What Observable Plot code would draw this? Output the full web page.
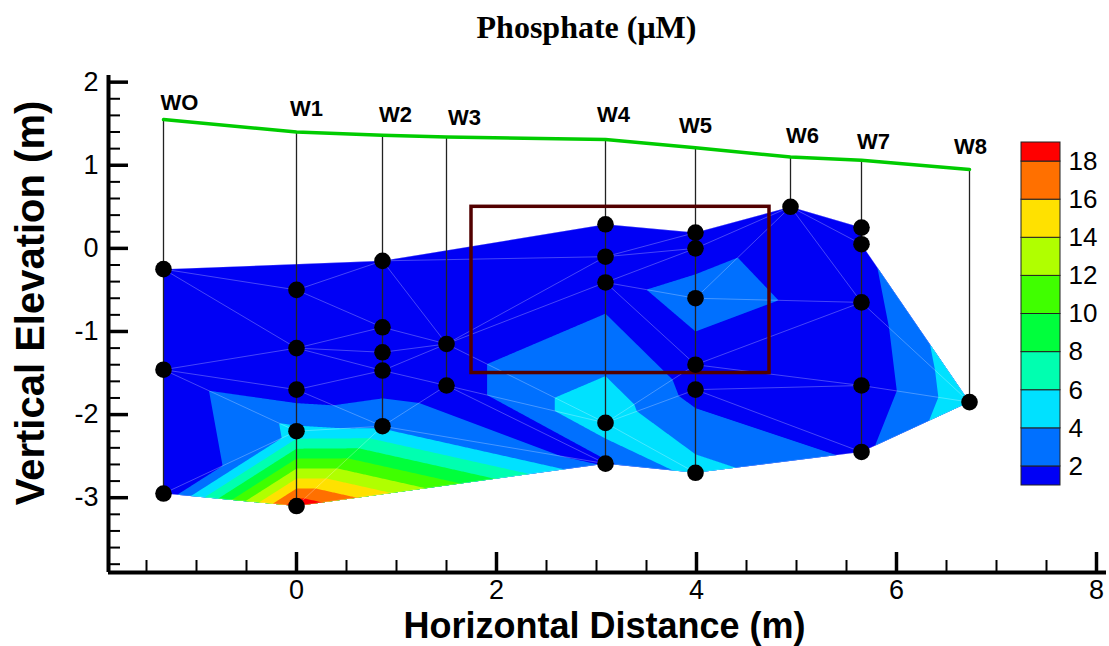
<!DOCTYPE html>
<html><head><meta charset="utf-8">
<script src="https://cdn.jsdelivr.net/npm/d3@7"></script>
<script src="https://cdn.jsdelivr.net/npm/@observablehq/plot@0.6"></script>
<style>
body{margin:0;background:#fff;}
#wrap{position:relative;width:1109px;height:646px;overflow:hidden;}
#main{position:absolute;left:0;top:0;}
#legend{position:absolute;left:1010px;top:130px;}
</style></head><body><div id="wrap"><div id="main"></div><div id="legend"></div></div>
<script>
// ---- data ----
const wells    = ["WO","W1","W2","W3","W4","W5","W6","W7","W8"];
const wellX    = [-1.33, 0.0, 0.86, 1.5, 3.09, 3.99, 4.94, 5.65, 6.73];
const surfaceY = [1.55, 1.40, 1.36, 1.34, 1.31, 1.21, 1.10, 1.06, 0.95];
const labelX   = [-1.17, 0.10, 0.99, 1.68, 3.17, 3.99, 5.06, 5.77, 6.74];
const labelY   = [1.67, 1.59, 1.52, 1.48, 1.52, 1.39, 1.27, 1.20, 1.13];

const sampleWell  = [0,0,0, 1,1,1,1,1, 2,2,2,2,2, 3,3, 4,4,4,4,4, 5,5,5,5,5,5, 6, 7,7,7,7,7, 8];
const sampleDepth = [-0.25,-1.46,-2.95, -0.5,-1.2,-1.7,-2.2,-3.1, -0.15,-0.95,-1.25,-1.47,-2.14,
                     -1.15,-1.65, 0.29,-0.1,-0.41,-2.1,-2.59, 0.19,0.0,-0.6,-1.4,-1.7,-2.7, 0.5,
                     0.25,0.05,-0.65,-1.65,-2.45, -1.85];
const phosphate   = [0.6,0.7,0.0, 0.5,0.6,0.8,4.5,19.5, 0.5,0.6,0.6,0.4,3.6,
                     0.8,0.8, 0.5,0.6,1.0,5.5,1.6, 0.5,0.7,3.2,0.8,1.2,4.8, 0.5,
                     0.6,1.4,0.8,0.3,1.5, 5.5];
// outline of the sampled section (sample indices, in order)
const boundary = [0, 8, 15, 20, 26, 27, 28, 32, 31, 25, 19, 7, 2, 1];

const levels      = [2,4,6,8,10,12,14,16,18];
const levelColors = ["#0000F5","#0070FF","#00E1FF","#00FFB0","#00FF3C","#40FF00","#B0FF00","#FFE100","#FF7000","#FF0000"];

const studyBox = [{x1: 1.75, x2: 4.73, y1: -1.5, y2: 0.5}];

const xMajor = [0,2,4,6,8];
const xMinor = [-1.5,-1,-0.5,0.5,1,1.5,2.5,3,3.5,4.5,5,5.5,6.5,7,7.5];
const yMajor = [-3,-2,-1,0,1,2];
const yMinor = [-3.8,-3.6,-3.4,-3.2,-2.8,-2.6,-2.4,-2.2,-1.8,-1.6,-1.4,-1.2,-0.8,-0.6,-0.4,-0.2,
                0.2,0.4,0.6,0.8,1.2,1.4,1.6,1.8];

// ---- build tables ----
const samples = sampleWell.map((w, i) => ({w, x: wellX[w], y: sampleDepth[i], v: phosphate[i]}));
const wellData = wells.map((name, i) => ({
  name, x: wellX[i], top: surfaceY[i],
  bottom: d3.min(samples.filter(s => s.w === i), s => s.y),
  lx: labelX[i], ly: labelY[i]
}));

const W = 1109, H = 646, mL = 108, mR = 3, mT = 75, mB = 74;
const frameW = W - mL - mR, frameH = H - mT - mB;
const xDom = [-1.88, 8.1], yDom = [-3.9, 2.08];
const font = "'Liberation Sans', Arial, Helvetica, sans-serif";
const fmt = d => String(d);

const plot = Plot.plot({
  width: W, height: H, marginLeft: mL, marginRight: mR, marginTop: mT, marginBottom: mB,
  style: {fontFamily: font, fontSize: "27px", background: "white", overflow: "visible"},
  x: {domain: xDom, axis: null},
  y: {domain: yDom, axis: null},
  color: {type: "threshold", domain: levels, range: levelColors},
  marks: [
    Plot.contour(samples, {x: "x", y: "y", fill: "v", interpolate: "barycentric",
      thresholds: [0, ...levels], pixelSize: 1}),
    Plot.delaunayMesh(samples, {x: "x", y: "y", stroke: "white", strokeOpacity: 0.35, strokeWidth: 0.8}),
    Plot.link(wellData, {x1: "x", y1: "top", x2: "x", y2: "bottom", stroke: "#222", strokeWidth: 1.3}),
    Plot.line(wellData, {x: "x", y: "top", stroke: "#00CC00", strokeWidth: 3.5}),
    Plot.rect(studyBox, {x1: "x1", x2: "x2", y1: "y1", y2: "y2", fill: "none", stroke: "#520000", strokeWidth: 3.5}),
    Plot.dot(samples, {x: "x", y: "y", r: 8.3, fill: "black"}),
    Plot.text(wellData, {x: "lx", y: "ly", text: "name", fontSize: 22, fontWeight: "bold", lineAnchor: "bottom", fill: "black"}),
    // axes
    Plot.tickX(xMinor, {x: d => d, insetTop: frameH - 12, strokeWidth: 2}),
    Plot.tickX(xMajor, {x: d => d, insetTop: frameH - 20, strokeWidth: 3.5}),
    Plot.tickY(yMinor, {y: d => d, insetRight: frameW - 12, strokeWidth: 2}),
    Plot.tickY(yMajor, {y: d => d, insetRight: frameW - 20, strokeWidth: 3.5}),
    Plot.ruleX([xDom[0]], {strokeWidth: 4}),
    Plot.ruleY([yDom[0]], {strokeWidth: 4}),
    Plot.axisX({ticks: xMajor, tickFormat: fmt, tickSize: 0, tickPadding: 7, fontSize: 27, label: null}),
    Plot.axisY({ticks: yMajor, tickFormat: fmt, tickSize: 0, tickPadding: 10, fontSize: 27, label: null}),
    Plot.text(["Horizontal Distance (m)"], {text: d => d, frameAnchor: "bottom", textAnchor: "middle", dx: -3, dy: 65,
      lineAnchor: "bottom", fontSize: 36, fontWeight: "bold"}),
    Plot.text(["Vertical Elevation (m)"], {text: d => d, frameAnchor: "left", textAnchor: "middle", rotate: -90, dx: -77, dy: -21,
      lineAnchor: "middle", fontSize: 40, fontWeight: "bold"}),
    Plot.text(["Phosphate (μM)"], {text: d => d, frameAnchor: "top", textAnchor: "middle", dx: -21, dy: -38,
      lineAnchor: "bottom", fontSize: 32, fontWeight: "bold", fontFamily: "'Liberation Serif', 'Times New Roman', serif"})
  ]
});

// clip the contour field and mesh to the sampled section outline
const sx = plot.scale("x"), sy = plot.scale("y");
const ns = "http://www.w3.org/2000/svg";
const defs = document.createElementNS(ns, "defs");
const cp = document.createElementNS(ns, "clipPath");
cp.setAttribute("id", "sectionClip");
const poly = document.createElementNS(ns, "polygon");
poly.setAttribute("points", boundary.map(i => [sx.apply(samples[i].x), sy.apply(samples[i].y)].join(",")).join(" "));
cp.appendChild(poly); defs.appendChild(cp);
plot.insertBefore(defs, plot.firstChild);
plot.querySelectorAll("g[aria-label]").forEach(g => {
  const a = g.getAttribute("aria-label");
  if (a.includes("contour") || a.includes("delaunay")) g.setAttribute("clip-path", "url(#sectionClip)");
});
document.getElementById("main").appendChild(plot);

// colour bar
const legendMin = 1, legendMax = 19;
const legend = Plot.plot({
  width: 99, height: 370, marginLeft: 11, marginRight: 49, marginTop: 12, marginBottom: 15,
  style: {fontFamily: font, background: "transparent", overflow: "visible"},
  x: {domain: [0, 1], axis: null},
  y: {domain: [legendMin, legendMax], axis: null},
  color: {type: "identity"},
  marks: [
    Plot.rect(levelColors, {x1: 0, x2: 1,
      y1: (d, i) => i === 0 ? legendMin : levels[i - 1],
      y2: (d, i) => i === levels.length ? legendMax : levels[i],
      fill: d => d, stroke: "#222", strokeWidth: 1}),
    Plot.text(levels, {x: 1, y: d => d, text: d => String(d), textAnchor: "start", dx: 8, fontSize: 26, fill: "black"})
  ]
});
document.getElementById("legend").appendChild(legend);
</script></body></html>
